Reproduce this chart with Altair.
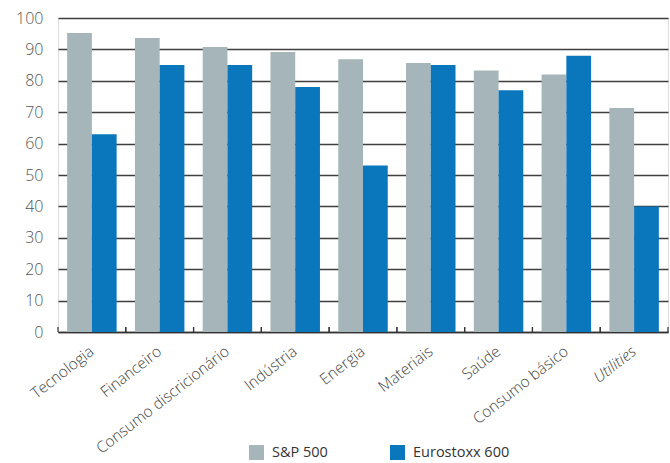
import altair as alt
import pandas as pd

categories = ["Tecnologia", "Financeiro", "Consumo discricionário", "Indústria", "Energia",
              "Materiais", "Saúde", "Consumo básico", "Utilities"]
series = ["S&P 500", "Eurostoxx 600"]
sp500 = [95.2, 93.6, 90.8, 89.2, 86.9, 85.7, 83.3, 82.0, 71.3]
eurostoxx = [63, 85, 85, 78, 53, 85, 77, 88, 40]
colors = ["#a6b5b9", "#0a77bd"]
y_ticks = [0, 10, 20, 30, 40, 50, 60, 70, 80, 90, 100]

rows = []
for c, a, b in zip(categories, sp500, eurostoxx):
    rows.append({"cat": c, "series": series[0], "value": a})
    rows.append({"cat": c, "series": series[1], "value": b})
df = pd.DataFrame(rows)
cat_df = pd.DataFrame({"cat": categories})

FONT = "Open Sans"
xscale = alt.Scale(domain=categories, paddingInner=0, paddingOuter=0)
xaxis = alt.Axis(title=None, ticks=False, domain=True, domainColor="#333333",
                 domainWidth=1.5, labelAngle=-38, labelAlign="right",
                 labelBaseline="middle", labelPadding=17, labelFontSize=15.5,
                 labelColor="#444444", labelFont=FONT, labelFontWeight=300,
                 labelFontStyle={"condition": {"test": "datum.value === 'Utilities'",
                                               "value": "italic"},
                                 "value": "normal"},
                 labelOverlap=False, labelBound=False, labelFlush=False)

bars = alt.Chart(df).mark_bar().encode(
    x=alt.X("cat:N", scale=xscale, sort=categories, axis=xaxis),
    xOffset=alt.XOffset("series:N", sort=series,
                        scale=alt.Scale(domain=series, paddingInner=0, paddingOuter=0.37)),
    y=alt.Y("value:Q", scale=alt.Scale(domain=[0, 100], nice=False),
            axis=alt.Axis(title=None, values=y_ticks, ticks=False, domain=False, grid=True,
                          gridColor="#3f3f3f", gridWidth=1.5, labelFontSize=16,
                          labelColor="#555555", labelFont=FONT, labelFontWeight=300,
                          labelPadding=15)),
    color=alt.Color("series:N", sort=series,
                    scale=alt.Scale(domain=series, range=colors),
                    legend=alt.Legend(title=None, orient="none", direction="horizontal",
                                      legendX=191, legendY=427, symbolType="square",
                                      symbolSize=225, symbolStrokeWidth=0,
                                      labelFontSize=14.5, labelFont=FONT, labelColor="#333333",
                                      labelOffset=8, columnPadding=62, padding=0)),
)

ticks0 = alt.Chart(cat_df).mark_rule(color="#333333", strokeWidth=1.2).encode(
    x=alt.X("cat:N", scale=xscale, sort=categories, bandPosition=0, axis=xaxis),
    y=alt.value(314), y2=alt.value(309),
)
ticks1 = alt.Chart(cat_df).mark_rule(color="#333333", strokeWidth=1.2).encode(
    x=alt.X("cat:N", scale=xscale, sort=categories, bandPosition=1, axis=xaxis),
    y=alt.value(314), y2=alt.value(309),
)

chart = alt.layer(bars, ticks0, ticks1).properties(
    width=610, height=314,
    padding={"left": 58, "top": 18, "right": 2, "bottom": 131},
    autosize=alt.AutoSizeParams(type="none"),
).configure_view(stroke=None).configure(background="white")

chart.save("out.html", embed_options={"renderer": "svg", "actions": False})
